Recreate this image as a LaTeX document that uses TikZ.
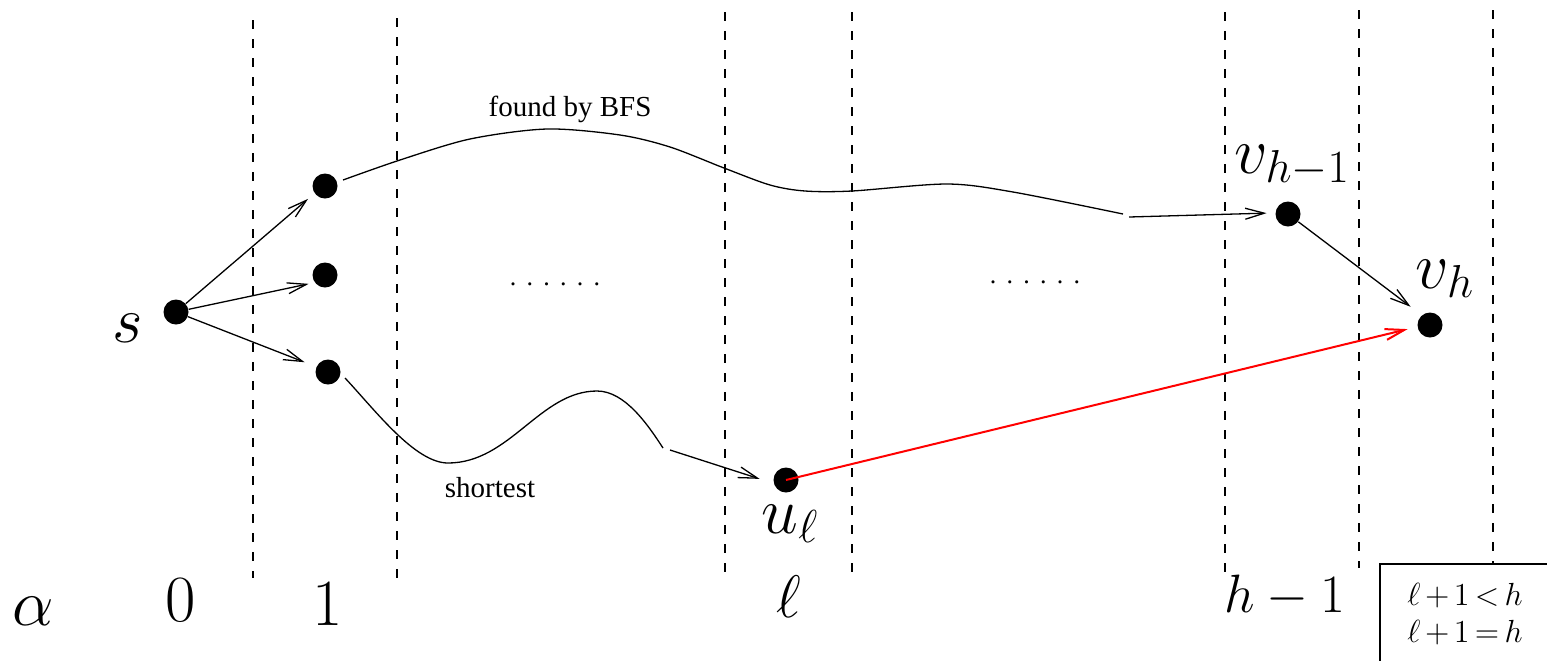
\RequirePackage{fix-cm}
\documentclass[tikz,border=0pt]{standalone}
\usepackage{fontspec}
\newfontfamily\timesf{Liberation Serif}
\usetikzlibrary{arrows.meta}
\newcommand\dotrow{.\hspace{5.15pt}.\hspace{5.15pt}.\hspace{5.15pt}.\hspace{5.15pt}.\hspace{5.15pt}.}
\newcommand\tightmath{\medmuskip=2.5mu\relax\thickmuskip=3mu\relax}
\begin{document}
\begin{tikzpicture}[x=0.5pt,y=-0.5pt,
  dotnode/.style={circle,fill=black,inner sep=0pt,minimum size=12.5pt},
  conn/.style={line width=0.65pt,-{Straight Barb[length=9.5pt,width=5.5pt]}},
  redconn/.style={line width=1pt,red,-{Straight Barb[length=9.5pt,width=5.5pt]}},
  thinl/.style={line width=0.65pt},
  dashline/.style={line width=0.6pt,dash pattern=on 4.5pt off 5pt},
  lab/.style={inner sep=0pt,anchor=base,font=\fontsize{33}{40}\selectfont},
  txt/.style={inner sep=0pt,anchor=base,font=\timesf\fontsize{14.5}{17}\selectfont},
  ell/.style={inner sep=0pt,anchor=base,font=\timesf\fontsize{13}{15}\selectfont},
  boxtxt/.style={inner sep=0pt,anchor=base,font=\fontsize{16}{19}\selectfont\tightmath}]
\useasboundingbox (0,0) rectangle (1547,660);
\clip (0,0) rectangle (1547,660);
% dashed separators
\draw[dashline] (253,20) -- (253,578);
\draw[dashline] (397,18) -- (397,578);
\draw[dashline] (725,12) -- (725,572);
\draw[dashline] (852,12) -- (852,572);
\draw[dashline] (1225,12) -- (1225,572);
\draw[dashline] (1359,10) -- (1359,568);
\draw[dashline] (1493,10) -- (1493,564);
% dots
\node[dotnode] (s) at (176,312) {};
\node[dotnode] (a1) at (325,186) {};
\node[dotnode] (a2) at (325,275) {};
\node[dotnode] (a3) at (328,372) {};
\node[dotnode] (u) at (786,480) {};
\node[dotnode] (vh1) at (1288,214) {};
\node[dotnode] (vh) at (1430,325) {};
% labels
\node[lab] (ls) at (128,342) {$s$};
\node[lab] (lu) at (790,533) {$u_\ell$};
\node[lab] (lvh1) at (1292,173) {$v_{h-1}$};
\node[lab] (lvh) at (1445,288) {$v_h$};
\node[lab] (lalpha) at (33,625) {$\alpha$};
\node[lab] (l0) at (181,621) {$0$};
\node[lab] (l1) at (328,625) {$1$};
\node[lab,font=\fontsize{30}{36}\selectfont] (lell) at (789,617) {$\ell$};
\node[lab,font=\fontsize{27}{32}\selectfont] (lhm1) at (1285,612) {$h-1$};
\node[txt] (tbfs) at (570,116) {found by BFS};
\node[txt] (tshort) at (490,497) {shortest};
\node[ell] (dots1) at (555,285) {\dotrow};
\node[ell] (dots2) at (1035,283) {\dotrow};
% legend box
\draw[line width=1pt] (1380,680) -- (1380,564) -- (1560,564);
\node[boxtxt] (bx1) at (1465,605) {$\ell+1<h$};
\node[boxtxt] (bx2) at (1465,642) {$\ell+1=h$};
% arrows from s
\draw[conn,shorten >=4.2pt] (s) -- (a1.215);
\draw[conn,shorten >=3pt] (s) -- (a2.216);
\draw[conn,shorten >=6.2pt] (s) -- (a3.156);
% BFS curve
\coordinate (b1) at (343,180);
\coordinate (b2) at (400,160);
\coordinate (b3) at (470,139);
\coordinate (b4) at (547,129);
\coordinate (b5) at (620,135);
\coordinate (b6) at (670,147);
\coordinate (b7) at (724,168);
\coordinate (b8) at (770,185);
\coordinate (b9) at (805,191);
\coordinate (b10) at (852,191);
\coordinate (b11) at (947,184);
\coordinate (b12) at (1013,192);
\coordinate (b13) at (1123,214);
\coordinate (bs) at (1129,217);
\draw[thinl] plot[smooth,tension=0.5] coordinates {(b1) (b2) (b3) (b4) (b5) (b6) (b7) (b8) (b9) (b10) (b11) (b12) (b13)};
\draw[conn,shorten >=4.3pt] (bs) -- (vh1.175);
% shortest curve
\coordinate (c1) at (345,378);
\coordinate (c3) at (448,463);
\coordinate (c6) at (597,391);
\coordinate (c8) at (663,448);
\coordinate (cs) at (670,450);
\draw[thinl] (c1) .. controls (375,410) and (415,463) .. (c3)
  .. controls (510,463) and (540,391) .. (c6)
  .. controls (625,391) and (648,425) .. (c8);
\draw[conn,shorten >=7.3pt] (cs) -- (u.195);
% to v_h
\draw[conn,shorten >=6.9pt] (vh1) -- (vh.130);
\draw[redconn,shorten >=4.9pt] (u.center) -- (vh.188);
\end{tikzpicture}
\end{document}
